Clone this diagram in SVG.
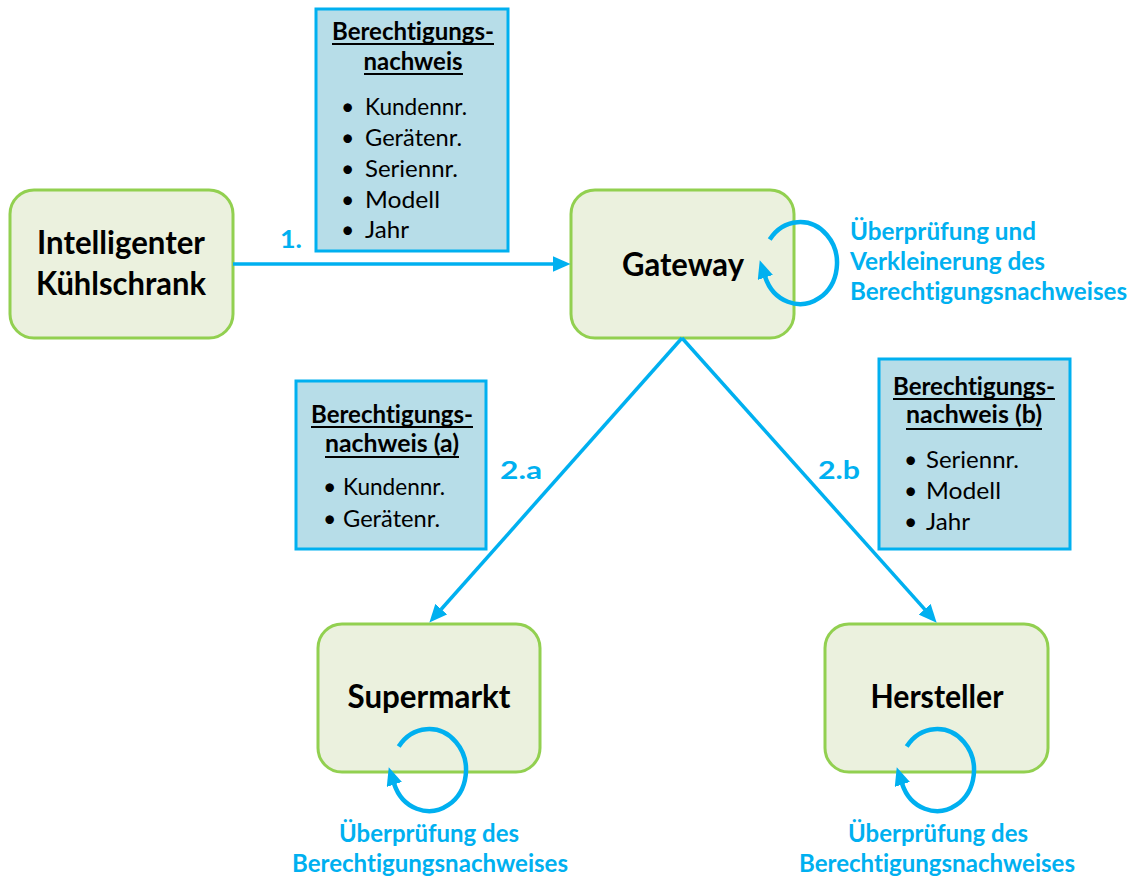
<svg xmlns="http://www.w3.org/2000/svg" width="1137" height="880" viewBox="0 0 1137 880">
  <style>
    text { font-family: Lato, "Liberation Sans", sans-serif; font-variant-ligatures: none; }
    .node rect { fill: #EBF1DE; stroke: #92D050; stroke-width: 3; }
    .node text { font-size: 32px; font-weight: bold; fill: #000; text-anchor: middle; }
    .card rect { fill: #B7DDE8; stroke: #00B0F0; stroke-width: 3; }
    .card .head { font-size: 25px; font-weight: bold; fill: #000; text-anchor: middle; }
    .card .rule { stroke: #000; stroke-width: 1.8; }
    .card .item { font-size: 23px; fill: #000; }
    .flow { fill: none; stroke: #00B0F0; stroke-width: 3.5; }
    .loop { fill: none; stroke: #00B0F0; stroke-width: 4.5; }
    .lbl { font-size: 25px; font-weight: bold; fill: #00B0F0; }
  </style>
  <defs>
    <marker id="arrow" viewBox="0 0 18 16" refX="0.5" refY="8" markerWidth="18" markerHeight="16" markerUnits="userSpaceOnUse" orient="auto">
      <path d="M0,0 L18,8 L0,16 Z" fill="#00B0F0"/>
    </marker>
  </defs>

  <!-- credential cards -->
  <g id="card-full" class="card">
    <rect x="316" y="9" width="192" height="242"/>
    <text class="head" x="413" y="40" textLength="162" lengthAdjust="spacingAndGlyphs">Berechtigungs-</text>
    <text class="head" x="413" y="70" textLength="99" lengthAdjust="spacingAndGlyphs">nachweis</text>
    <line class="rule" x1="332" y1="44" x2="494" y2="44"/>
    <line class="rule" x1="364" y1="74" x2="463" y2="74"/>
    <text class="item" x="341" y="115">•</text><text class="item" x="365" y="115" textLength="102" lengthAdjust="spacingAndGlyphs">Kundennr.</text>
    <text class="item" x="341" y="146">•</text><text class="item" x="365" y="146" textLength="97" lengthAdjust="spacingAndGlyphs">Gerätenr.</text>
    <text class="item" x="341" y="177">•</text><text class="item" x="365" y="177" textLength="93" lengthAdjust="spacingAndGlyphs">Seriennr.</text>
    <text class="item" x="341" y="208">•</text><text class="item" x="365" y="208" textLength="75" lengthAdjust="spacingAndGlyphs">Modell</text>
    <text class="item" x="341" y="238">•</text><text class="item" x="365" y="238" textLength="44" lengthAdjust="spacingAndGlyphs">Jahr</text>
  </g>

  <g id="card-a" class="card">
    <rect x="296" y="381" width="190" height="168"/>
    <text class="head" x="392" y="423" textLength="162" lengthAdjust="spacingAndGlyphs">Berechtigungs-</text>
    <text class="head" x="392" y="452" textLength="134" lengthAdjust="spacingAndGlyphs">nachweis (a)</text>
    <line class="rule" x1="311" y1="427" x2="473" y2="427"/>
    <line class="rule" x1="325" y1="457" x2="459" y2="457"/>
    <text class="item" x="323" y="495">•</text><text class="item" x="343" y="495" textLength="102" lengthAdjust="spacingAndGlyphs">Kundennr.</text>
    <text class="item" x="323" y="527">•</text><text class="item" x="343" y="527" textLength="97" lengthAdjust="spacingAndGlyphs">Gerätenr.</text>
  </g>

  <g id="card-b" class="card">
    <rect x="879" y="359" width="191" height="190"/>
    <text class="head" x="974" y="395" textLength="162" lengthAdjust="spacingAndGlyphs">Berechtigungs-</text>
    <text class="head" x="974" y="423" textLength="136" lengthAdjust="spacingAndGlyphs">nachweis (b)</text>
    <line class="rule" x1="893" y1="399" x2="1055" y2="399"/>
    <line class="rule" x1="906" y1="429" x2="1042" y2="429"/>
    <text class="item" x="904" y="468">•</text><text class="item" x="926" y="468" textLength="93" lengthAdjust="spacingAndGlyphs">Seriennr.</text>
    <text class="item" x="904" y="499">•</text><text class="item" x="926" y="499" textLength="75" lengthAdjust="spacingAndGlyphs">Modell</text>
    <text class="item" x="904" y="530">•</text><text class="item" x="926" y="530" textLength="44" lengthAdjust="spacingAndGlyphs">Jahr</text>
  </g>

  <!-- parties -->
  <g id="fridge" class="node">
    <rect x="10" y="190" width="223" height="148" rx="24"/>
    <text x="121" y="254" textLength="168" lengthAdjust="spacingAndGlyphs">Intelligenter</text>
    <text x="121" y="295" textLength="170" lengthAdjust="spacingAndGlyphs">Kühlschrank</text>
  </g>

  <g id="gateway" class="node">
    <rect x="571" y="190" width="223" height="148" rx="24"/>
    <text x="683" y="276" textLength="122" lengthAdjust="spacingAndGlyphs">Gateway</text>
  </g>

  <g id="supermarket" class="node">
    <rect x="318" y="624" width="222" height="148" rx="24"/>
    <text x="429" y="708" textLength="163" lengthAdjust="spacingAndGlyphs">Supermarkt</text>
  </g>

  <g id="manufacturer" class="node">
    <rect x="825" y="624" width="223" height="148" rx="24"/>
    <text x="937" y="708" textLength="133" lengthAdjust="spacingAndGlyphs">Hersteller</text>
  </g>

  <!-- connectors -->
  <g id="connectors">
    <line class="flow" x1="233" y1="264" x2="553" y2="264" marker-end="url(#arrow)"/>
    <line class="flow" x1="682" y1="338" x2="441" y2="609.5" marker-end="url(#arrow)"/>
    <line class="flow" x1="682" y1="338" x2="925" y2="609.6" marker-end="url(#arrow)"/>

    <!-- self checks -->
    <path class="loop" d="M769.7,239.5 A37,41 0 1 1 765.2,277" marker-end="url(#arrow)"/>
    <path class="loop" d="M398.7,746.5 A37,41 0 1 1 394.2,784" marker-end="url(#arrow)"/>
    <path class="loop" d="M906.7,746.5 A37,41 0 1 1 902.2,784" marker-end="url(#arrow)"/>

    <text class="lbl" x="280" y="248" textLength="22" lengthAdjust="spacingAndGlyphs">1.</text>
    <text class="lbl" x="500" y="479" textLength="42" lengthAdjust="spacingAndGlyphs">2.a</text>
    <text class="lbl" x="818" y="479" textLength="42" lengthAdjust="spacingAndGlyphs">2.b</text>

    <text class="lbl" x="850" y="240" textLength="186" lengthAdjust="spacingAndGlyphs">Überprüfung und</text>
    <text class="lbl" x="850" y="270" textLength="195" lengthAdjust="spacingAndGlyphs">Verkleinerung des</text>
    <text class="lbl" x="850" y="300" textLength="277" lengthAdjust="spacingAndGlyphs">Berechtigungsnachweises</text>

    <text class="lbl" x="339" y="842" textLength="180" lengthAdjust="spacingAndGlyphs">Überprüfung des</text>
    <text class="lbl" x="292" y="872" textLength="276" lengthAdjust="spacingAndGlyphs">Berechtigungsnachweises</text>

    <text class="lbl" x="848" y="842" textLength="180" lengthAdjust="spacingAndGlyphs">Überprüfung des</text>
    <text class="lbl" x="799" y="872" textLength="276" lengthAdjust="spacingAndGlyphs">Berechtigungsnachweises</text>
  </g>
</svg>
